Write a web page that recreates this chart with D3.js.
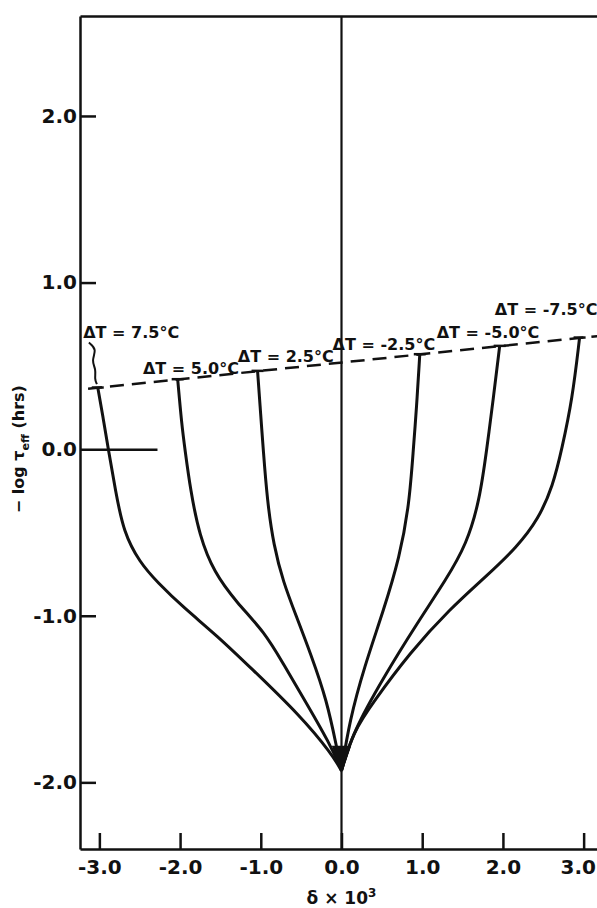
<!DOCTYPE html>
<html>
<head>
<meta charset="utf-8">
<script src="https://cdn.jsdelivr.net/npm/d3@7"></script>
<style>
  body { margin: 0; background: #fff; }
  svg { display: block; }
  text { font-family: "DejaVu Sans", sans-serif; fill: #111; }
</style>
</head>
<body>
<svg id="chart" width="597" height="908"></svg>
<script>
// values: [delta x 10^3, -log tau_eff]
const deltaTLabels = ["7.5", "5.0", "2.5", "-2.5", "-5.0", "-7.5"];

const curve75 = [[-3.02, 0.37], [-2.95, 0.18], [-2.89, 0], [-2.8, -0.25], [-2.7, -0.5],
  [-2.5, -0.68], [-2.28, -0.8], [-1.96, -0.95], [-1.54, -1.12], [-1.13, -1.31],
  [-0.51, -1.6], [-0.12, -1.83], [0, -1.93]];
const curve50 = [[-2.03, 0.42], [-1.98, 0.15], [-1.94, 0], [-1.87, -0.25], [-1.76, -0.52],
  [-1.58, -0.74], [-1.3, -0.92], [-0.95, -1.1], [-0.72, -1.29], [-0.5, -1.47],
  [-0.14, -1.77], [0, -1.93]];
const curve25 = [[-1.04, 0.47], [-1.0, 0.2], [-0.97, 0], [-0.92, -0.31], [-0.84, -0.58],
  [-0.72, -0.8], [-0.57, -0.99], [-0.38, -1.23], [-0.18, -1.51], [-0.06, -1.79], [0, -1.93]];
const curveM25 = [[0.97, 0.57], [0.93, 0.25], [0.89, 0], [0.84, -0.33], [0.72, -0.65],
  [0.52, -0.97], [0.28, -1.31], [0.1, -1.63], [0, -1.93]];
const curveM50 = [[1.96, 0.62], [1.88, 0.3], [1.8, 0], [1.71, -0.31], [1.55, -0.57],
  [1.3, -0.78], [0.93, -1.05], [0.52, -1.37], [0.14, -1.7], [0, -1.93]];
const curveM75 = [[2.95, 0.67], [2.86, 0.3], [2.73, 0], [2.62, -0.22], [2.44, -0.42],
  [2.17, -0.59], [1.8, -0.76], [1.34, -0.96], [0.85, -1.22], [0.39, -1.52],
  [0.14, -1.7], [0, -1.93]];

// dashed line through the curve tops
const threshold = [[-3.14, 0.363], [3.24, 0.682]];

// label anchors [delta, -log tau] and the wiggly leader for the first label
const labelAnchors = [[-3.2, 0.667], [-2.46, 0.451], [-1.285, 0.523],
  [-0.11, 0.595], [1.18, 0.667], [1.9, 0.805]];
const leader75 = [[-3.13, 0.64], [-3.03, 0.6], [-3.1, 0.53], [-3.04, 0.48],
  [-3.06, 0.42], [-3.03, 0.39]];
const cone = [[-0.12, -1.78], [0.12, -1.78], [0, -1.95]];

const xTicks = [-3, -2, -1, 0, 1, 2, 3];
const yTicks = [-2, -1, 0, 1, 2];
const zeroTickEnd = -2.28;

const curves = [curve75, curve50, curve25, curveM25, curveM50, curveM75];

const svg = d3.select("#chart");
const W = +svg.attr("width");
const x = d3.scaleLinear().domain([-3.24, 3.24]).range([80, 603]);
const y = d3.scaleLinear().domain([-2.4, 2.6]).range([849, 16]);

const fmt = d => (d < 0 ? "-" : "") + Math.abs(d).toFixed(1);

// left axis, ticks point inward
const yAxis = svg.append("g")
  .attr("transform", "translate(80,0)")
  .call(d3.axisLeft(y).tickValues(yTicks).tickFormat(fmt)
    .tickSizeInner(-16).tickSizeOuter(0).tickPadding(3));

// bottom axis, ticks point up
const xAxis = svg.append("g")
  .attr("transform", "translate(0,849)")
  .call(d3.axisBottom(x).tickValues(xTicks).tickFormat(fmt)
    .tickSizeInner(-16).tickSizeOuter(0).tickPadding(11));

// top edge of the frame
svg.append("g")
  .attr("transform", "translate(0,16)")
  .call(d3.axisTop(x).tickValues([]).tickSizeOuter(0));

svg.selectAll(".domain").attr("stroke", "#111").attr("stroke-width", 2.5);
svg.selectAll(".tick line").attr("stroke", "#111").attr("stroke-width", 2.5);
svg.selectAll(".tick text")
  .attr("font-size", 20).attr("font-weight", "bold")
  .attr("font-family", "DejaVu Sans, sans-serif").attr("fill", "#111");

// keep the last x label inside the page
xAxis.selectAll(".tick text").each(function () {
  const b = this.getBBox();
  const tx = +d3.select(this.parentNode).attr("transform").match(/translate\(([-\d.]+)/)[1];
  if (tx + b.x + b.width > W - 1) d3.select(this).attr("x", W - 1 - tx - b.width / 2 - b.x - b.width / 2);
});

// zero tick on the y axis runs further in
yAxis.selectAll(".tick").filter(d => d === 0).select("line")
  .attr("x2", x(zeroTickEnd) - x.range()[0]);

// vertical line at delta = 0
svg.append("line")
  .attr("x1", x(0)).attr("x2", x(0))
  .attr("y1", y.range()[1]).attr("y2", y.range()[0])
  .attr("stroke", "#111").attr("stroke-width", 2.2);

const line = d3.line().x(d => x(d[0])).y(d => y(d[1]));
const smooth = d3.line().x(d => x(d[0])).y(d => y(d[1])).curve(d3.curveBasis);

svg.append("path")
  .attr("d", line(threshold))
  .attr("fill", "none").attr("stroke", "#111")
  .attr("stroke-width", 2.5).attr("stroke-dasharray", "14,8");

svg.selectAll(".curve")
  .data(curves)
  .enter()
  .append("path")
  .attr("class", "curve")
  .attr("d", smooth)
  .attr("fill", "none").attr("stroke", "#111")
  .attr("stroke-width", 3);

// little cap at the top of each curve
svg.selectAll(".cap")
  .data(curves)
  .enter()
  .append("line")
  .attr("class", "cap")
  .attr("x1", d => x(d[0][0]) - 6).attr("x2", d => x(d[0][0]) + 6)
  .attr("y1", d => y(d[0][1])).attr("y2", d => y(d[0][1]))
  .attr("stroke", "#111").attr("stroke-width", 2.5);

svg.append("path")
  .attr("d", line(cone) + "Z")
  .attr("fill", "#111");

svg.append("path")
  .attr("d", smooth(leader75))
  .attr("fill", "none").attr("stroke", "#111").attr("stroke-width", 2);

svg.selectAll(".dt")
  .data(deltaTLabels)
  .enter()
  .append("text")
  .attr("class", "dt")
  .attr("x", (d, i) => x(labelAnchors[i][0]))
  .attr("y", (d, i) => y(labelAnchors[i][1]))
  .attr("font-size", 16)
  .attr("font-weight", "bold")
  .text(d => "ΔT = " + d + "°C");

// axis titles
const xt = svg.append("text")
  .attr("x", x(0)).attr("y", 904)
  .attr("text-anchor", "middle")
  .attr("font-size", 17).attr("font-weight", "bold");
xt.append("tspan").text("δ × 10");
xt.append("tspan").attr("dy", -7).attr("font-size", 12).text("3");

const yt = svg.append("text")
  .attr("transform", "translate(24," + y(0) + ") rotate(-90)")
  .attr("text-anchor", "middle")
  .attr("font-size", 16).attr("font-weight", "bold");
yt.append("tspan").text("− log τ");
yt.append("tspan").attr("dy", 5).attr("font-size", 11).text("eff");
yt.append("tspan").attr("dy", -5).text(" (hrs)");
</script>
</body>
</html>
